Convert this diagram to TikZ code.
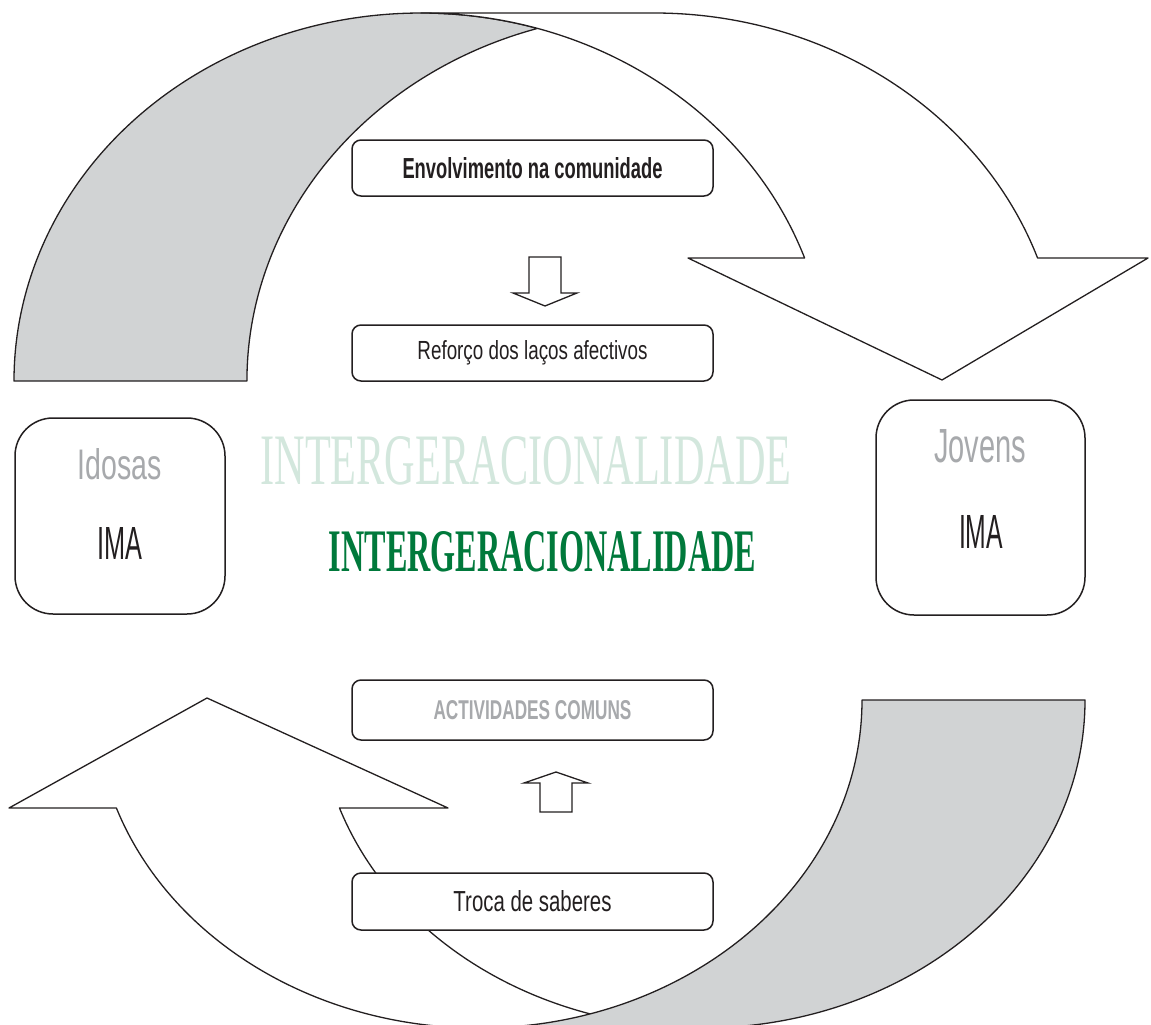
\documentclass[tikz,border=0pt]{standalone}
\usepackage{fontspec}
\usepackage{graphicx}
\newfontfamily\agency{Liberation Sans}
\newfontfamily\condserif{Liberation Serif}
\definecolor{bandgray}{HTML}{D1D3D4}
\definecolor{ink}{HTML}{231F20}
\definecolor{softgray}{HTML}{A7A9AC}
\definecolor{palegreen}{HTML}{D3E7DD}
\definecolor{deepgreen}{HTML}{00793B}
\newcommand\fitbox[3]{\resizebox{#1pt}{#2pt}{#3}}
\begin{document}
\begin{tikzpicture}[x=1pt,y=1pt,
  band/.style={draw=ink, line width=1.3pt, line join=round},
  stepbox/.style={draw=ink, line width=1.5pt, rounded corners=9pt, fill=white,
                  minimum width=361pt, minimum height=56pt, inner sep=0pt},
  agebox/.style={draw=ink, line width=1.5pt, rounded corners=38pt, fill=white, inner sep=0pt},
  hollow/.style={draw=ink, line width=1.3pt, fill=white, line join=miter},
  lbl/.style={anchor=base, inner sep=0pt}]
\useasboundingbox (0,0) rectangle (1151,-1025);
\begin{scope}
\clip (0,0) rectangle (1151,-1025);
% top curved arrow: back (gray) part
\path[band, fill=bandgray] (14,-381)
  arc[start angle=180, end angle=73.37, x radius=407pt, y radius=368pt]
  arc[start angle=106.63, end angle=180, x radius=407pt, y radius=368pt] -- cycle;
% top curved arrow: front (white) part
\path[band, fill=white] (421,-13) -- (654,-13)
  arc[start angle=90, end angle=19.53, x radius=407pt, y radius=368pt]
  -- (1148,-258) -- (942,-380) -- (688,-258) -- (804.6,-258)
  arc[start angle=19.53, end angle=90, x radius=407pt, y radius=368pt] -- cycle;
% bottom curved arrow: front (white) part
\path[band, fill=white] (478.5,-1028)
  arc[start angle=-90, end angle=-160.78, x radius=383.5pt, y radius=328pt]
  -- (9,-808) -- (207,-698) -- (448,-808) -- (339.5,-808)
  arc[start angle=-160.78, end angle=-90, x radius=383.5pt, y radius=328pt] -- cycle;
% bottom curved arrow: back (gray) part
\path[band, fill=bandgray] (862,-700) -- (1085,-700)
  arc[start angle=0, end angle=-90, x radius=383.5pt, y radius=328pt]
  -- (478.5,-1028)
  arc[start angle=-90, end angle=0, x radius=383.5pt, y radius=328pt] -- cycle;
\end{scope}

% step boxes
\node[stepbox, text=ink] (envolv) at (532.5,-168)
  {\fitbox{260}{21}{\agency\bfseries Envolvimento na comunidade}};
\node[stepbox, text=ink] (reforco) at (532.5,-353)
  {\fitbox{230}{19}{\agency Reforço dos laços afectivos}};
\node[stepbox, text=softgray, minimum height=60pt] (activ) at (532.5,-710)
  {\fitbox{198}{19}{\agency\bfseries ACTIVIDADES COMUNS}};
\node[stepbox, text=ink, minimum height=57pt] (troca) at (532.5,-901.5)
  {\fitbox{158}{21}{\agency Troca de saberes}};

% hollow block arrows between the step boxes
\path[hollow] (529,-257) -- (561,-257) -- (561,-293) -- (577,-293) -- (545,-306)
  -- (513,-293) -- (529,-293) -- cycle;
\path[hollow] (540,-812) -- (572,-812) -- (572,-783) -- (588,-783) -- (556,-772)
  -- (524,-783) -- (540,-783) -- cycle;

% age boxes
\node[agebox, minimum width=210pt, minimum height=196pt] (idosas) at (120,-516) {};
\node[lbl, text=softgray] (idosasT) at (120,-479) {\fitbox{84}{31}{\agency Idosas}};
\node[lbl, text=ink] (imaL) at (120,-559) {\fitbox{45}{32}{\agency IMA}};
\node[agebox, minimum width=209pt, minimum height=215pt] (jovens) at (980.5,-507.5) {};
\node[lbl, text=softgray] (jovensT) at (980,-462) {\fitbox{92}{33}{\agency Jovens}};
\node[lbl, text=ink] (imaR) at (981,-548) {\fitbox{44}{33}{\agency IMA}};

% titles
\node[lbl, text=palegreen] (titlelight) at (526,-484)
  {\fitbox{531}{48}{\condserif INTERGERACIONALIDADE}};
\node[lbl, text=deepgreen] (titledark) at (542.5,-571)
  {\fitbox{427}{40}{\condserif\bfseries INTERGERACIONALIDADE}};
\end{tikzpicture}
\end{document}
